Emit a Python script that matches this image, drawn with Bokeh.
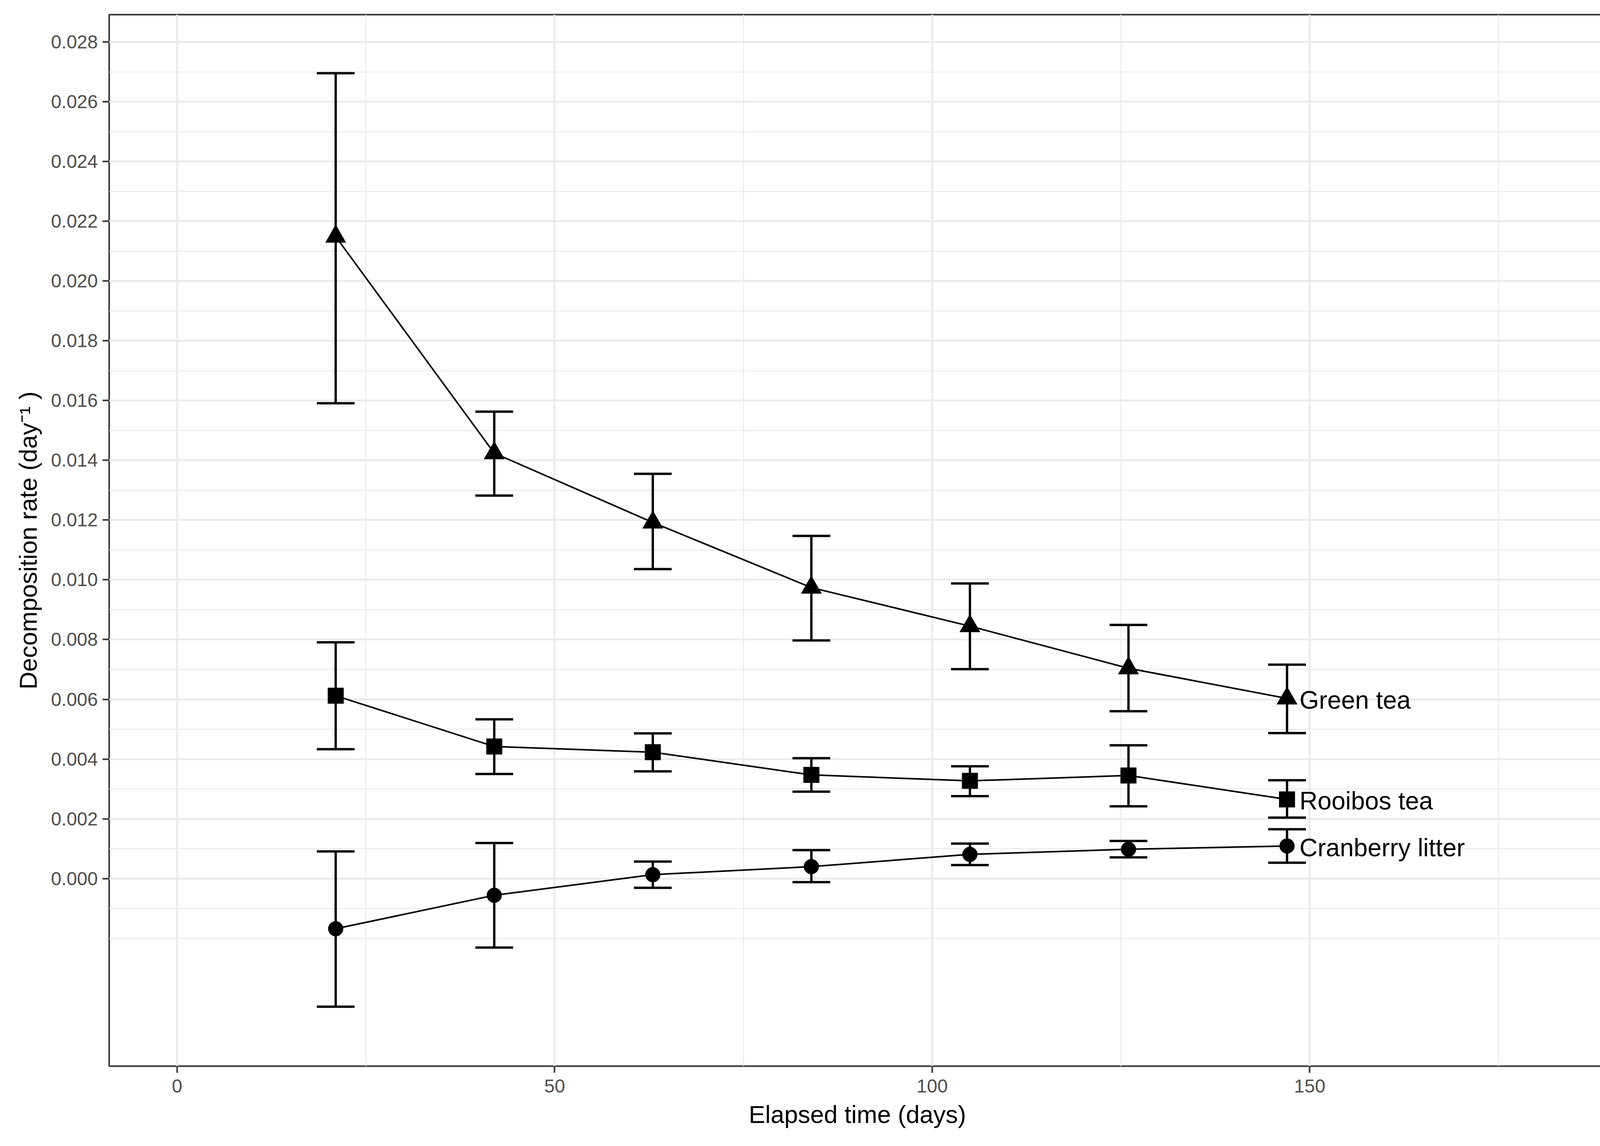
from bokeh.plotting import figure
from bokeh.models import FixedTicker, NumeralTickFormatter, Range1d
from bokeh.embed import file_html
from bokeh.resources import INLINE
from bokeh.core.properties import value

# ---------------- data ----------------
days = [21, 42, 63, 84, 105, 126, 147]

green_mean = [0.02149, 0.01424, 0.01192, 0.00974, 0.00845, 0.00704, 0.00603]
green_upper = [0.02696, 0.01563, 0.01355, 0.01147, 0.00988, 0.00849, 0.00716]
green_lower = [0.01591, 0.01282, 0.01036, 0.00797, 0.00701, 0.00560, 0.00487]

rooibos_mean = [0.00612, 0.00442, 0.00423, 0.00347, 0.00327, 0.00345, 0.00265]
rooibos_upper = [0.00791, 0.00533, 0.00486, 0.00403, 0.00376, 0.00446, 0.00329]
rooibos_lower = [0.00433, 0.00350, 0.00359, 0.00291, 0.00276, 0.00242, 0.00204]

cran_mean = [-0.00168, -0.00056, 0.00013, 0.00040, 0.00081, 0.00098, 0.00109]
cran_upper = [0.00091, 0.00119, 0.00057, 0.00095, 0.00117, 0.00126, 0.00165]
cran_lower = [-0.00429, -0.00231, -0.00031, -0.00012, 0.00045, 0.00071, 0.00053]

series_labels = ["Green tea", "Rooibos tea", "Cranberry litter"]

x_major = [0, 50, 100, 150]
x_minor = [25, 75, 125, 175]
y_major = [i * 0.002 for i in range(15)]
y_minor = [-0.002, -0.001] + [0.001 + i * 0.002 for i in range(14)]

cap_half_width = 2.5  # days

FONT = "Liberation Sans"

# ---------------- figure ----------------
W, H = 4136, 2919
p = figure(
    width=W, height=H,
    x_range=Range1d(-9.0, 189.2), y_range=Range1d(-0.00628, 0.02892),
    output_backend="svg", toolbar_location=None,
    min_border_left=279, min_border_right=26, min_border_top=37, min_border_bottom=189,
)
p.background_fill_color = "white"
p.border_fill_color = "white"
p.outline_line_color = "#333333"
p.outline_line_width = 4

# axes
p.xaxis.ticker = FixedTicker(ticks=x_major, minor_ticks=x_minor)
p.yaxis.ticker = FixedTicker(ticks=y_major, minor_ticks=y_minor)
p.yaxis.formatter = NumeralTickFormatter(format="0.000")

for ax in (p.xaxis, p.yaxis):
    ax.axis_line_color = None
    ax.major_tick_line_color = "#333333"
    ax.major_tick_line_width = 4
    ax.major_tick_out = 17
    ax.major_tick_in = 0
    ax.minor_tick_line_color = None
    ax.major_label_text_font = FONT
    ax.major_label_text_font_size = "48px"
    ax.major_label_text_color = "#4D4D4D"
    ax.axis_label_text_font = FONT
    ax.axis_label_text_font_size = "63px"
    ax.axis_label_text_font_style = "normal"
    ax.axis_label_text_color = "black"

p.xaxis.major_label_standoff = 17
p.yaxis.major_label_standoff = 12
p.xaxis.axis_label = "Elapsed time (days)"
p.xaxis.axis_label_standoff = 18
p.yaxis.axis_label = "Decomposition rate (day\u207b\u00b9 )"
p.yaxis.axis_label_standoff = 20

# grid
for g in (p.xgrid, p.ygrid):
    g.grid_line_color = "#EBEBEB"
    g.grid_line_width = 5
    g.minor_grid_line_color = "#EBEBEB"
    g.minor_grid_line_width = 2.5

# ---------------- glyphs ----------------
series = [
    (green_mean, green_upper, green_lower, "triangle", 52),
    (rooibos_mean, rooibos_upper, rooibos_lower, "square", 40),
    (cran_mean, cran_upper, cran_lower, "circle", 38),
]

for mean, up, lo, marker, size in series:
    # error bar stems
    p.segment(x0=days, y0=lo, x1=days, y1=up, line_color="black", line_width=6)
    # caps
    xl = [d - cap_half_width for d in days]
    xr = [d + cap_half_width for d in days]
    p.segment(x0=xl, y0=up, x1=xr, y1=up, line_color="black", line_width=6)
    p.segment(x0=xl, y0=lo, x1=xr, y1=lo, line_color="black", line_width=6)
    # connecting line
    p.line(days, mean, line_color="black", line_width=4)
    # markers
    p.scatter(days, mean, marker=marker, size=size, fill_color="black", line_color="black", line_width=1)

# end labels
last_x = [days[-1]] * 3
last_y = [green_mean[-1], rooibos_mean[-1], cran_mean[-1]]
p.text(x=last_x, y=last_y, text=series_labels, x_offset=32, y_offset=4,
       text_baseline="middle", text_align="left",
       text_font=value(FONT), text_font_size="64px", text_color="black")

open("out.html", "w").write(file_html(p, INLINE))
